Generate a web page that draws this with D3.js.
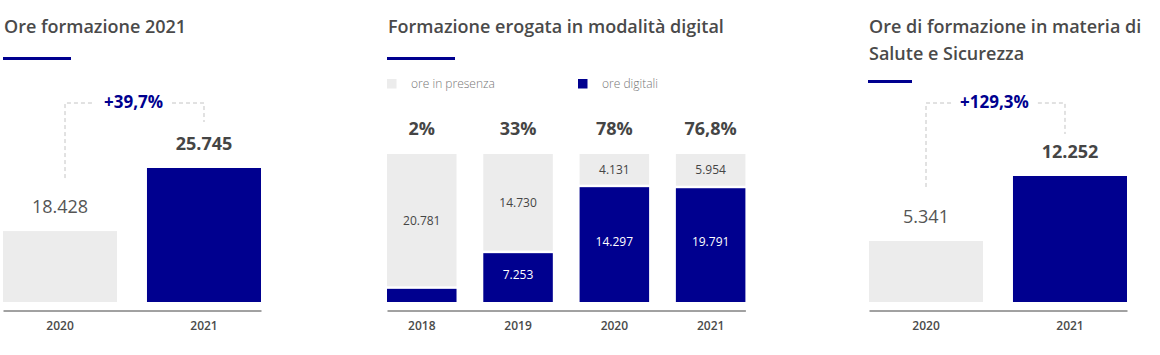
<!DOCTYPE html>
<html>
<head>
<meta charset="utf-8">
<script src="https://cdn.jsdelivr.net/npm/d3@7"></script>
<style>
  html, body { margin: 0; padding: 0; background: #fff; }
  svg { display: block; }
  text { font-family: "Open Sans", sans-serif; }
</style>
</head>
<body>
<svg id="chart" width="1160" height="355"></svg>
<script>
// ---------- DATA ----------
const oreYears = ["2020", "2021"];
const oreValues = [18428, 25745];
const oreChange = "+39,7%";
const oreTitle = ["Ore formazione 2021"];

const digitalYears = ["2018", "2019", "2020", "2021"];
const presenzaValues = [20781, 14730, 4131, 5954];
const digitaliValues = [2030, 7253, 14297, 19791]; // 2018 estimated from bar
const digitalShareLabels = ["2%", "33%", "78%", "76,8%"];
const digitalLegend = ["ore in presenza", "ore digitali"];
const digitalTitle = ["Formazione erogata in modalità digital"];

const sicYears = ["2020", "2021"];
const sicValues = [5341, 12252];
const sicChange = "+129,3%";
const sicTitle = ["Ore di formazione in materia di", "Salute e Sicurezza"];

// ---------- STYLE ----------
const BLUE = "#00008f";
const GRAY = "#ececec";
const TEXT = "#454545";
const DASH = "#c4c4c4";

const it = d3.formatLocale({ decimal: ",", thousands: ".", grouping: [3], currency: ["€", ""] });
const fmt = it.format(",");

const svg = d3.select("#chart");
const baseY = 302, axisY = 310.5;

function title(g, x, lines, ulY, ulW) {
  lines.forEach((l, i) => {
    g.append("text").attr("x", x).attr("y", 33 + i * 27)
      .attr("font-size", 18).attr("font-weight", 600).attr("fill", "#4a4a4a").text(l);
  });
  g.append("rect").attr("x", x - 1).attr("y", ulY).attr("width", ulW).attr("height", 3).attr("fill", BLUE);
}

function axis(g, x) {
  const ax = g.append("g").attr("transform", `translate(0,${axisY})`)
    .call(d3.axisBottom(x).tickSize(0).tickSizeOuter(0).tickPadding(11));
  ax.select(".domain").attr("stroke", "#444").attr("stroke-width", 1);
  ax.selectAll("text").attr("font-family", "Open Sans, sans-serif").attr("font-size", 12)
    .attr("font-weight", 600).attr("fill", "#4a4a4a");
}

function comparePanel(opts) {
  const g = svg.append("g");
  title(g, opts.tx, opts.title, opts.ulY, opts.ulW);
  const x = d3.scaleBand().domain(opts.years).range(opts.xRange).paddingInner(0.208).paddingOuter(0);
  const y = d3.scaleLinear().domain(opts.yDomain).range([baseY, opts.topY]);
  const bw = x.bandwidth();
  g.selectAll("rect.bar").data(opts.values).join("rect").attr("class", "bar")
    .attr("x", (d, i) => x(opts.years[i])).attr("width", bw)
    .attr("y", d => y(d)).attr("height", d => baseY - y(d))
    .attr("fill", (d, i) => i === 0 ? GRAY : BLUE);
  g.selectAll("text.val").data(opts.values).join("text").attr("class", "val")
    .attr("x", (d, i) => x(opts.years[i]) + bw / 2).attr("y", d => y(d) - 18)
    .attr("text-anchor", "middle").attr("font-size", 18)
    .attr("font-weight", (d, i) => i === 0 ? 400 : 700)
    .attr("fill", (d, i) => i === 0 ? "#555" : TEXT).text(d => fmt(d));
  axis(g, x);
  // connector
  const xl = x(opts.years[0]) + bw / 2 + opts.off[0];
  const xr = x(opts.years[1]) + bw / 2 + opts.off[1];
  const cy = 103;
  const lbl = g.append("text").attr("x", (xl + xr) / 2 - 1).attr("y", 108)
    .attr("text-anchor", "middle").attr("font-size", 17).attr("font-weight", 700)
    .attr("fill", BLUE).text(opts.change);
  const bb = lbl.node().getBBox();
  const yLeftEnd = y(opts.values[0]) - 18 - 13 - opts.gapL;
  const yRightEnd = y(opts.values[1]) - 18 - 13 - opts.gapR;
  g.append("path").attr("d", `M${xl},${yLeftEnd}V${cy}H${bb.x - 9}`)
    .attr("fill", "none").attr("stroke", DASH).attr("stroke-width", 1).attr("stroke-dasharray", "4,3");
  g.append("path").attr("d", `M${bb.x + bb.width + 9},${cy}H${xr}V${yRightEnd}`)
    .attr("fill", "none").attr("stroke", DASH).attr("stroke-width", 1).attr("stroke-dasharray", "4,3");
}

// Panel 1
comparePanel({
  tx: 4, title: oreTitle, ulY: 57, ulW: 68,
  years: oreYears, values: oreValues, change: oreChange,
  xRange: [3, 261], yDomain: [10200, 25745], topY: 168,
  off: [5, 0], gapL: 22, gapR: 15
});

// Panel 3
comparePanel({
  tx: 869, title: sicTitle, ulY: 80, ulW: 44,
  years: sicYears, values: sicValues, change: sicChange,
  xRange: [869, 1127], yDomain: [-1150, 12252], topY: 176,
  off: [0, -5], gapL: 23, gapR: 11
});

// Panel 2: stacked 100%
(function () {
  const g = svg.append("g");
  title(g, 388, digitalTitle, 57, 68);
  const rows = digitalYears.map((yr, i) => ({ year: yr, presenza: presenzaValues[i], digitali: digitaliValues[i] }));
  const stack = d3.stack().keys(["digitali", "presenza"]).offset(d3.stackOffsetExpand);
  const series = stack(rows);
  const x = d3.scaleBand().domain(digitalYears).range([387, 745.4]).paddingInner(0.278).paddingOuter(0);
  const y = d3.scaleLinear().domain([0, 1]).range([baseY, 154]);
  const bw = x.bandwidth();
  const gap = 2.5;
  const dig = series[0];
  g.selectAll("rect.dig").data(dig).join("rect").attr("class", "dig")
    .attr("x", d => x(d.data.year)).attr("width", bw)
    .attr("y", d => y(d[1])).attr("height", d => y(d[0]) - y(d[1])).attr("fill", BLUE);
  const pres = series[1];
  g.selectAll("rect.pres").data(pres).join("rect").attr("class", "pres")
    .attr("x", d => x(d.data.year)).attr("width", bw)
    .attr("y", d => y(d[1])).attr("height", d => y(d[0]) - y(d[1]) - gap).attr("fill", GRAY);
  g.selectAll("text.plab").data(pres).join("text").attr("class", "plab")
    .attr("x", d => x(d.data.year) + bw / 2)
    .attr("y", d => (y(d[1]) + y(d[0]) - gap) / 2 + 4.5)
    .attr("text-anchor", "middle").attr("font-size", 12).attr("fill", TEXT)
    .text(d => fmt(d.data.presenza));
  g.selectAll("text.dlab").data(dig.filter(d => y(d[0]) - y(d[1]) > 25)).join("text").attr("class", "dlab")
    .attr("x", d => x(d.data.year) + bw / 2)
    .attr("y", d => (y(d[1]) + y(d[0])) / 2 + 1)
    .attr("text-anchor", "middle").attr("font-size", 12).attr("fill", "#fff")
    .text(d => fmt(d.data.digitali));
  g.selectAll("text.share").data(digitalShareLabels).join("text").attr("class", "share")
    .attr("x", (d, i) => x(digitalYears[i]) + bw / 2).attr("y", 135)
    .attr("text-anchor", "middle").attr("font-size", 18).attr("font-weight", 700)
    .attr("fill", TEXT).text(d => d);
  const legX = [387, 578];
  const legC = [GRAY, BLUE];
  digitalLegend.forEach((t, i) => {
    g.append("rect").attr("x", legX[i]).attr("y", 79).attr("width", 9.5).attr("height", 9.5).attr("fill", legC[i]);
    g.append("text").attr("x", legX[i] + 24).attr("y", 87.5).attr("font-size", 12)
      .attr("font-weight", 300).attr("fill", "#777").text(t);
  });
  axis(g, x);
})();
</script>
</body>
</html>
